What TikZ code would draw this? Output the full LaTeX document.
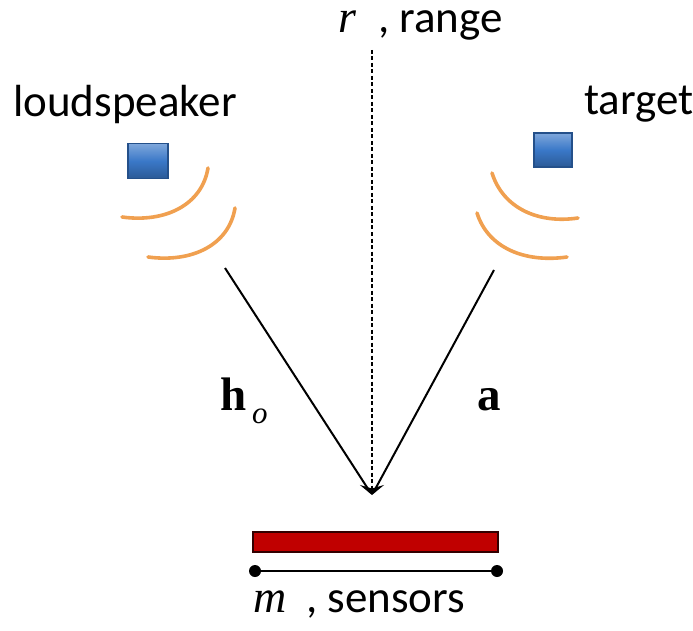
\documentclass[tikz,border=0pt]{standalone}
\usepackage{fontspec}
\setmainfont{Carlito}
\newfontfamily\mathserif{Liberation Serif}
\usetikzlibrary{arrows.meta}
\definecolor{boxblue}{HTML}{3A78C8}
\definecolor{boxedge}{HTML}{24508A}
\definecolor{wave}{HTML}{F0A050}
\definecolor{arrayred}{HTML}{C00000}
\begin{document}
\begin{tikzpicture}[x=1pt,y=-1pt,
  lbl/.style={inner sep=0pt,anchor=base west,font=\fontsize{45}{50}\selectfont},
  mlbl/.style={inner sep=0pt,anchor=base west,text height=0.45em,font=\fontsize{46}{52}\selectfont\mathserif\itshape},
  blbl/.style={inner sep=0pt,anchor=base west,font=\fontsize{47}{52}\selectfont\mathserif\bfseries},
  src/.style={draw=boxedge,line width=1.2pt,top color=boxblue!65!white,bottom color=boxblue!75!black,middle color=boxblue,inner sep=0pt},
  wavearc/.style={draw=wave,line width=3.6pt,line cap=round},
  path/.style={draw=black,line width=2pt},
  dot/.style={circle,fill=black,inner sep=0pt,minimum size=12pt}]
\useasboundingbox (0,0) rectangle (693,631);

% sources
\node[src,minimum width=40pt,minimum height=35pt] (spk) at (148,161) {};
\node[src,minimum width=38pt,minimum height=34pt] (tgt) at (553,150) {};

% emitted wavefronts
\draw[wavearc] (208,168) .. controls (202,205) and (165,223) .. (122,217);
\draw[wavearc] (235,208) .. controls (229,245) and (192,263) .. (148,257);
\draw[wavearc] (492,173) .. controls (503,208) and (538,224) .. (578,218);
\draw[wavearc] (477,213) .. controls (488,248) and (525,263) .. (567,257);

% labels
\node[lbl] (lspk) at (13,117) {loudspeaker};
\node[lbl] (ltgt) at (584,115) {target};
\node[mlbl] (rsym) at (338,33) {r};
\node[lbl] (rtxt) at (378,33) {, range};
\node[mlbl] (msym) at (253,612) {m};
\node[lbl] (mtxt) at (306,612) {, sensors};
\node[blbl] (hsym) at (220,410) {h};
\node[inner sep=0pt,anchor=base west,font=\fontsize{31}{34}\selectfont\mathserif\itshape] (hsub) at (252,423) {o};
\node[blbl] (asym) at (477,410) {a};

% propagation paths
\coordinate (focus) at (372,495);
\coordinate (ltop) at (225,268);
\coordinate (rtop) at (494,270);
\coordinate (rangetop) at (372,50);
\draw[path,shorten >=3pt] (ltop) -- (focus);
\draw[path,shorten >=3pt] (rtop) -- (focus);
\draw[line width=2pt,dash pattern=on 4pt off 2.5pt,-{Stealth[length=10pt,width=24pt,inset=3.5pt]}] (rangetop) -- (focus);

% sensor array
\node[draw=black!80!red,line width=1.2pt,fill=arrayred,minimum width=245pt,minimum height=20pt,inner sep=0pt] (bar) at (375.5,542) {};
\node[dot] (d1) at (255,571) {};
\node[dot] (d2) at (497,571) {};
\draw[line width=1.5pt] (d1) -- (d2);
\end{tikzpicture}
\end{document}
